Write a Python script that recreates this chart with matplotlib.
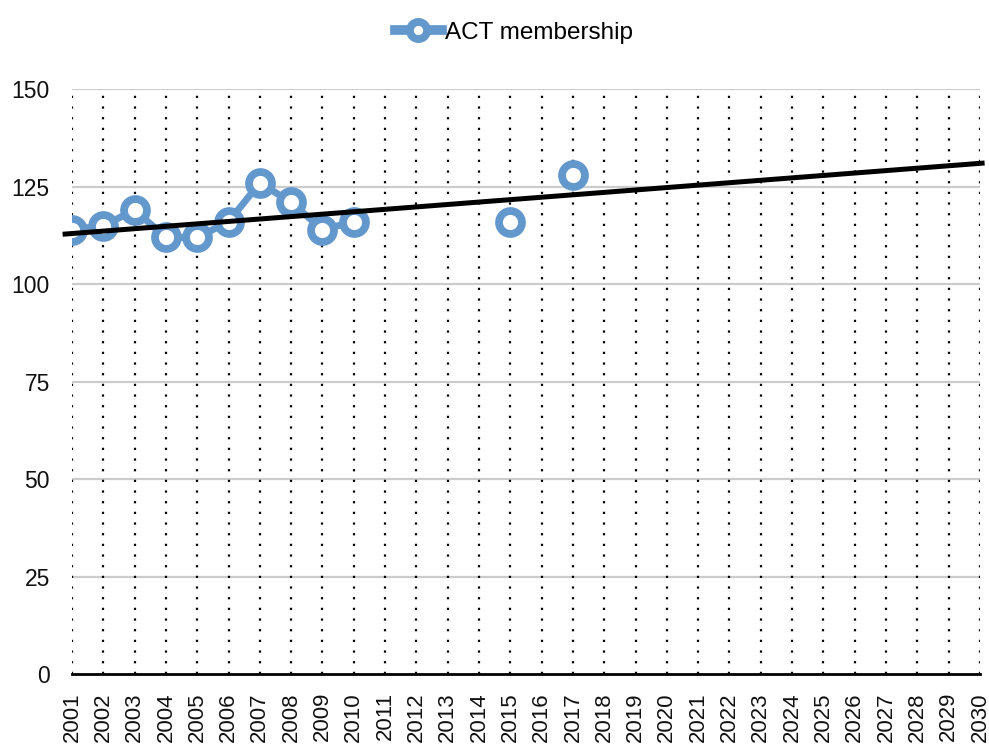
import numpy as np
import matplotlib
matplotlib.use('Agg')
import matplotlib.pyplot as plt

plt.rcParams['font.family'] = ['Liberation Sans', 'DejaVu Sans']

# Categories shown on the x-axis
years = [str(y) for y in range(2001, 2031)]

# ACT membership values (missing years have no data)
membership = {
    '2001': 114, '2002': 115, '2003': 119, '2004': 112, '2005': 112,
    '2006': 116, '2007': 126, '2008': 121, '2009': 114, '2010': 116,
    '2015': 116, '2017': 128,
}

# Linear trend line values (at 2001 and 2030)
trend_years = ['2001', '2030']
trend_values = [113, 131]

y_ticks = [0, 25, 50, 75, 100, 125, 150]

blue = '#6398cc'

x = np.arange(len(years))
y = np.array([membership.get(yr, np.nan) for yr in years], dtype=float)

fig = plt.figure(figsize=(9.89, 7.44), dpi=100)
ax = fig.add_axes([0.0728, 0.094, 0.918, 0.786])

# grid
for yt in y_ticks[1:]:
    ax.axhline(yt, color='#cccccc', lw=1.6, zorder=0)
for xi in x:
    ax.axvline(xi, color='black', lw=1.6, linestyle=(0, (1, 3.8)), zorder=0)

line, = ax.plot(x, y, color=blue, lw=5, marker='o', markersize=16.5,
                markerfacecolor='white', markeredgecolor=blue,
                markeredgewidth=5.6, zorder=3, label='ACT membership')

# trend line, slightly overhanging both ends like the original
tx = np.array([years.index(t) for t in trend_years], dtype=float)
slope = (trend_values[1] - trend_values[0]) / (tx[1] - tx[0])
tx_ext = np.array([tx[0] - 0.3, tx[1] + 0.15])
ty_ext = trend_values[0] + slope * (tx_ext - tx[0])
ax.plot(tx_ext, ty_ext, color='black', lw=3.6, solid_capstyle='butt',
        zorder=4, clip_on=False)

ax.set_xlim(0, len(years) - 1)
ax.set_ylim(0, 150)
ax.set_yticks(y_ticks)
ax.set_xticks(x)
ax.set_xticklabels(years, rotation=90, fontsize=16, color='#111111')
ax.tick_params(axis='y', length=0, pad=16, labelsize=16.5, labelcolor='#111111')
ax.tick_params(axis='x', length=0, pad=13)

for side in ['left', 'right', 'top']:
    ax.spines[side].set_visible(False)
ax.spines['bottom'].set_linewidth(2)
ax.spines['bottom'].set_color('black')
ax.spines['bottom'].set_zorder(5)

leg = fig.legend(handles=[line], loc='upper center', bbox_to_anchor=(0.52, 1.0),
                 frameon=False, fontsize=17.5, handlelength=1.9, handletextpad=0.15,
                 markerscale=0.75)
leg.get_lines()[0].set_linewidth(7)

fig.savefig('out.png', dpi=100)
